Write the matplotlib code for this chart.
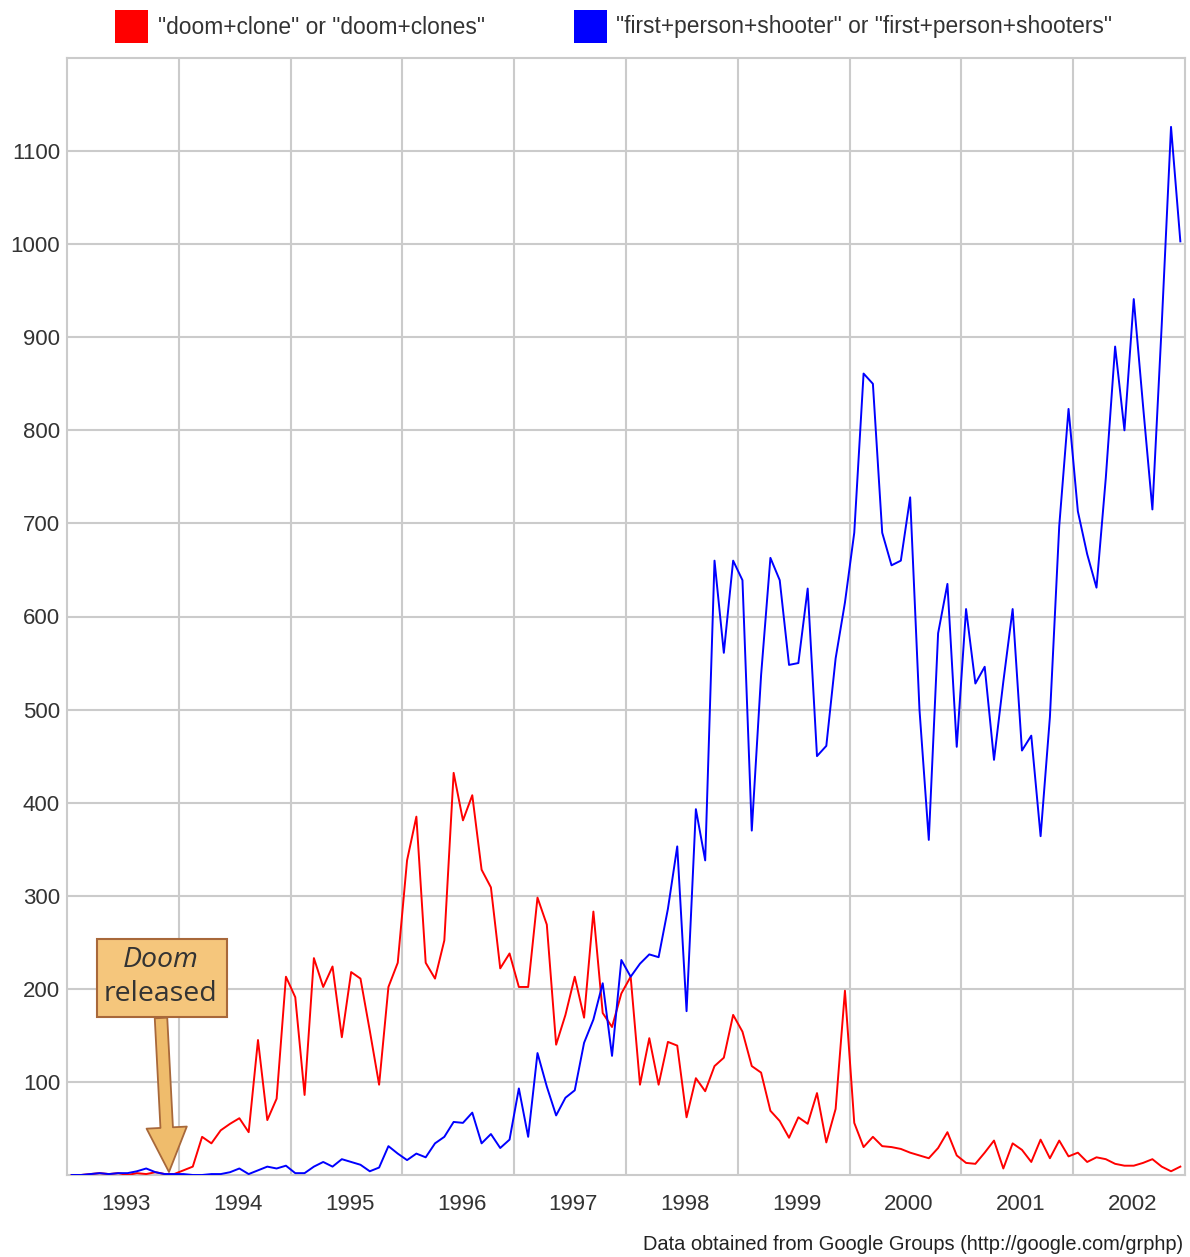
import numpy as np
import matplotlib
matplotlib.use("Agg")
import matplotlib.pyplot as plt
from matplotlib.patches import Rectangle

# ---------------- data ----------------
series_names = ['"doom+clone" or "doom+clones"',
                '"first+person+shooter" or "first+person+shooters"']
series_colors = ['#ff0000', '#0000ff']
year_labels = ['1993', '1994', '1995', '1996', '1997',
               '1998', '1999', '2000', '2001', '2002']
y_ticks = [100, 200, 300, 400, 500, 600, 700, 800, 900, 1000, 1100]

# monthly counts, Jan 1993 .. Dec 2002
doom_clone = [
    0, 0, 1, 2, 1, 2, 0, 2, 1, 3, 1, 1,
    5, 9, 41, 34, 48, 55, 61, 46, 145, 59, 82, 213,
    191, 86, 233, 202, 224, 148, 218, 211, 155, 97, 202, 228,
    338, 385, 228, 211, 252, 432, 381, 408, 328, 309, 222, 238,
    202, 202, 298, 269, 140, 172, 213, 169, 283, 174, 159, 195,
    213, 97, 147, 97, 143, 139, 62, 104, 90, 117, 126, 172,
    154, 117, 110, 69, 58, 40, 62, 55, 88, 35, 71, 198,
    56, 30, 41, 31, 30, 28, 24, 21, 18, 29, 46, 21,
    13, 12, 24, 37, 7, 34, 27, 14, 38, 18, 37, 20,
    24, 14, 19, 17, 12, 10, 10, 13, 17, 9, 4, 9,
]
fps = [
    0, 0, 1, 2, 1, 2, 2, 4, 7, 3, 1, 1,
    1, 0, 0, 1, 1, 3, 7, 1, 5, 9, 7, 10,
    2, 2, 9, 14, 9, 17, 14, 11, 4, 8, 31, 23,
    16, 23, 19, 34, 41, 57, 56, 67, 34, 44, 29, 38,
    93, 41, 131, 95, 64, 83, 91, 142, 167, 206, 128, 231,
    213, 227, 237, 234, 286, 353, 176, 393, 338, 660, 561, 660,
    639, 370, 537, 663, 639, 548, 550, 630, 450, 461, 555, 615,
    690, 861, 850, 690, 655, 660, 728, 500, 360, 582, 635, 460,
    608, 528, 546, 446, 530, 608, 456, 472, 364, 492, 697, 823,
    713, 667, 631, 749, 890, 800, 941, 826, 715, 913, 1126, 1003,
]

annotation_lines = ['Doom', 'released']
footer = 'Data obtained from Google Groups (http://google.com/grphp)'

# ---------------- figure ----------------
W, H = 1190, 1257
fig = plt.figure(figsize=(W / 100, H / 100), dpi=100)
fig.patch.set_facecolor('white')

L, R, T, B = 67, 1185, 58, 1175
ax = fig.add_axes([L / W, 1 - B / H, (R - L) / W, (B - T) / H])

n_months = len(doom_clone)
months = np.arange(n_months) + 0.5

grid_c = '#cbcbcb'
ax.plot(months, doom_clone, color=series_colors[0], lw=1.4, zorder=3)
ax.plot(months, fps, color=series_colors[1], lw=1.4, zorder=3)

ax.set_xlim(0, 12 * len(year_labels))
ax.set_ylim(0, 1200)

ax.set_xticks(np.arange(12, 12 * len(year_labels), 12))
ax.set_xticklabels([])
ax.set_xticks(np.arange(len(year_labels)) * 12 + 6.35, minor=True)
ax.set_xticklabels(year_labels, minor=True)
ax.set_yticks(y_ticks)
ax.set_yticklabels([str(v) for v in y_ticks])

ax.grid(True, which='major', color=grid_c, lw=1.5, zorder=0)
ax.set_axisbelow(True)
ax.tick_params(which='both', length=0)
ax.tick_params(axis='y', pad=5, labelsize=16, labelcolor='#333333')
ax.tick_params(axis='x', which='minor', pad=14, labelsize=16,
               labelcolor='#333333')
for lab in ax.get_xticklabels(minor=True) + ax.get_yticklabels():
    lab.set_fontfamily('Liberation Sans')
for s in ax.spines.values():
    s.set_color(grid_c)
    s.set_linewidth(1.5)

# ---------------- annotation ----------------
box_fc = '#f5c67c'
box_ec = '#a8683a'
px_x = (R - L) / (12 * len(year_labels))
px_y = (B - T) / 1200.0
def dx(p):
    return (p - L) / px_x
def dy(p):
    return (B - p) / px_y

ax.add_patch(Rectangle((dx(97), dy(1017)), dx(227) - dx(97), dy(939) - dy(1017),
                       facecolor=box_fc, edgecolor=box_ec, lw=1.5, zorder=6))
ax.text(dx(161), dy(960), annotation_lines[0], ha='center', va='center',
        fontsize=20.5, style='italic', family='Open Sans', color='#333333', zorder=7)
ax.text(dx(161), dy(994), annotation_lines[1], ha='center', va='center',
        fontsize=20.5, family='Open Sans', color='#333333', zorder=7)
ax.annotate('', xy=(dx(169), dy(1172)), xytext=(dx(161), dy(1018)),
            arrowprops=dict(arrowstyle='simple,head_width=1.45,head_length=1.6,tail_width=0.45',
                            mutation_scale=20, fc='#efbc6c', ec=box_ec, lw=1.3,
                            shrinkA=0, shrinkB=0),
            zorder=6)

# ---------------- legend ----------------
leg_items = [(115, 158), (574, 616)]
for (sx, tx), name, col in zip(leg_items, series_names, series_colors):
    fig.patches.append(Rectangle((sx / W, 1 - 43 / H), 33 / W, 33 / H,
                                 transform=fig.transFigure, facecolor=col,
                                 edgecolor='none'))
    fig.text(tx / W, 1 - 27 / H, name, ha='left', va='center', fontsize=16.4,
             family='Liberation Sans', color='#333333')

fig.text(1183 / W, 1 - 1245 / H, footer, ha='right', va='center', fontsize=14.4,
         family='Liberation Sans', color='#222222')

fig.savefig('out.png', dpi=100, facecolor='white')
